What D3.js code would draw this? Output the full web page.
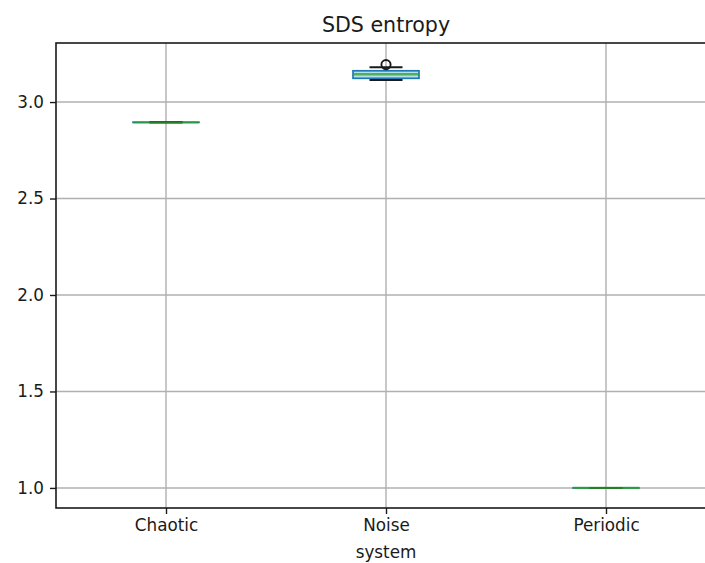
<!DOCTYPE html>
<html>
<head>
<meta charset="utf-8">
<script src="https://cdn.jsdelivr.net/npm/d3@7"></script>
<style>
  body { margin: 0; background: #fff; }
  text { font-family: "DejaVu Sans", sans-serif; fill: #1a1a1a; }
</style>
</head>
<body>
<div id="chart"></div>
<script>
// box statistics
const categories = ["Chaotic", "Noise", "Periodic"];
const whiskerLow = [2.895, 3.114, 1.0];
const q1 = [2.895, 3.123, 1.0];
const medians = [2.895, 3.144, 1.0];
const q3 = [2.895, 3.162, 1.0];
const whiskerHigh = [2.895, 3.180, 1.0];
const fliers = [[], [3.194], []];
const yTicks = [1.0, 1.5, 2.0, 2.5, 3.0];

const width = 705;
const height = 563;
const margin = { top: 43, right: -11, bottom: 55, left: 56 };

const svg = d3.select("#chart").append("svg")
  .attr("width", width)
  .attr("height", height);

const x = d3.scaleLinear()
  .domain([0.5, 3.5])
  .range([margin.left, width - margin.right]);

const y = d3.scaleLinear()
  .domain([0.896, 3.306])
  .range([height - margin.bottom, margin.top]);

const boxW = x(1.15) - x(0.85);
const capW = boxW / 2;

// grid
svg.append("g").selectAll("line.ygrid")
  .data(yTicks)
  .enter().append("line")
  .attr("x1", margin.left).attr("x2", width)
  .attr("y1", d => y(d)).attr("y2", d => y(d))
  .attr("stroke", "#b0b0b0").attr("stroke-width", 1.4);

svg.append("g").selectAll("line.xgrid")
  .data(categories)
  .enter().append("line")
  .attr("x1", (d, i) => x(i + 1)).attr("x2", (d, i) => x(i + 1))
  .attr("y1", margin.top).attr("y2", height - margin.bottom)
  .attr("stroke", "#b0b0b0").attr("stroke-width", 1.4);

// boxes
const box = svg.append("g").selectAll("g.box")
  .data(categories)
  .enter().append("g");

// whiskers
box.append("line")
  .attr("x1", (d, i) => x(i + 1)).attr("x2", (d, i) => x(i + 1))
  .attr("y1", (d, i) => y(q3[i])).attr("y2", (d, i) => y(whiskerHigh[i]))
  .attr("stroke", "#1f77b4").attr("stroke-width", 1.7);
box.append("line")
  .attr("x1", (d, i) => x(i + 1)).attr("x2", (d, i) => x(i + 1))
  .attr("y1", (d, i) => y(q1[i])).attr("y2", (d, i) => y(whiskerLow[i]))
  .attr("stroke", "#1f77b4").attr("stroke-width", 1.7);

box.append("rect")
  .attr("x", (d, i) => x(i + 1) - boxW / 2)
  .attr("y", (d, i) => y(q3[i]))
  .attr("width", boxW)
  .attr("height", (d, i) => Math.max(0.01, y(q1[i]) - y(q3[i])))
  .attr("fill", "#b4e0ea")
  .attr("stroke", "#1f77b4").attr("stroke-width", 1.7);

// caps
box.append("line")
  .attr("x1", (d, i) => x(i + 1) - capW / 2).attr("x2", (d, i) => x(i + 1) + capW / 2)
  .attr("y1", (d, i) => y(whiskerHigh[i])).attr("y2", (d, i) => y(whiskerHigh[i]))
  .attr("stroke", "#1a1a1a").attr("stroke-width", 1.9);
box.append("line")
  .attr("x1", (d, i) => x(i + 1) - capW / 2).attr("x2", (d, i) => x(i + 1) + capW / 2)
  .attr("y1", (d, i) => y(whiskerLow[i])).attr("y2", (d, i) => y(whiskerLow[i]))
  .attr("stroke", "#1a1a1a").attr("stroke-width", 1.9);

// medians
box.append("line")
  .attr("x1", (d, i) => x(i + 1) - boxW / 2).attr("x2", (d, i) => x(i + 1) + boxW / 2)
  .attr("y1", (d, i) => y(medians[i])).attr("y2", (d, i) => y(medians[i]))
  .attr("stroke", "#2ca02c").attr("stroke-width", 2.3)
  .attr("stroke-opacity", 0.75);

// fliers
box.selectAll("circle")
  .data((d, i) => fliers[i].map(v => ({ v: v, pos: i + 1 })))
  .enter().append("circle")
  .attr("cx", d => x(d.pos))
  .attr("cy", d => y(d.v))
  .attr("r", 4.6)
  .attr("fill", "none")
  .attr("stroke", "#1a1a1a").attr("stroke-width", 1.9);

// axes
const yAxis = d3.axisLeft(y).tickValues(yTicks).tickFormat(d3.format(".1f")).tickSize(6).tickPadding(6);
const gy = svg.append("g")
  .attr("transform", `translate(${margin.left},0)`)
  .call(yAxis);

const xAxis = d3.axisBottom(x).tickValues([1, 2, 3]).tickFormat(d => categories[d - 1]).tickSize(6).tickPadding(5);
const gx = svg.append("g")
  .attr("transform", `translate(0,${height - margin.bottom})`)
  .call(xAxis);

[gx, gy].forEach(g => {
  g.select(".domain").remove();
  g.selectAll(".tick line").attr("stroke", "#1a1a1a").attr("stroke-width", 1.4);
  g.selectAll(".tick text").attr("font-size", "16.8px").attr("font-family", "DejaVu Sans").attr("fill", "#1a1a1a");
});

// spines
svg.append("rect")
  .attr("x", margin.left).attr("y", margin.top)
  .attr("width", x(3.5) - margin.left)
  .attr("height", height - margin.bottom - margin.top)
  .attr("fill", "none").attr("stroke", "#1a1a1a").attr("stroke-width", 1.6);

svg.append("text")
  .attr("x", x(2)).attr("y", 32)
  .attr("text-anchor", "middle")
  .attr("font-size", "20.6px")
  .text("SDS entropy");

svg.append("text")
  .attr("x", x(2)).attr("y", 558)
  .attr("text-anchor", "middle")
  .attr("font-size", "16.8px")
  .text("system");
</script>
</body>
</html>
